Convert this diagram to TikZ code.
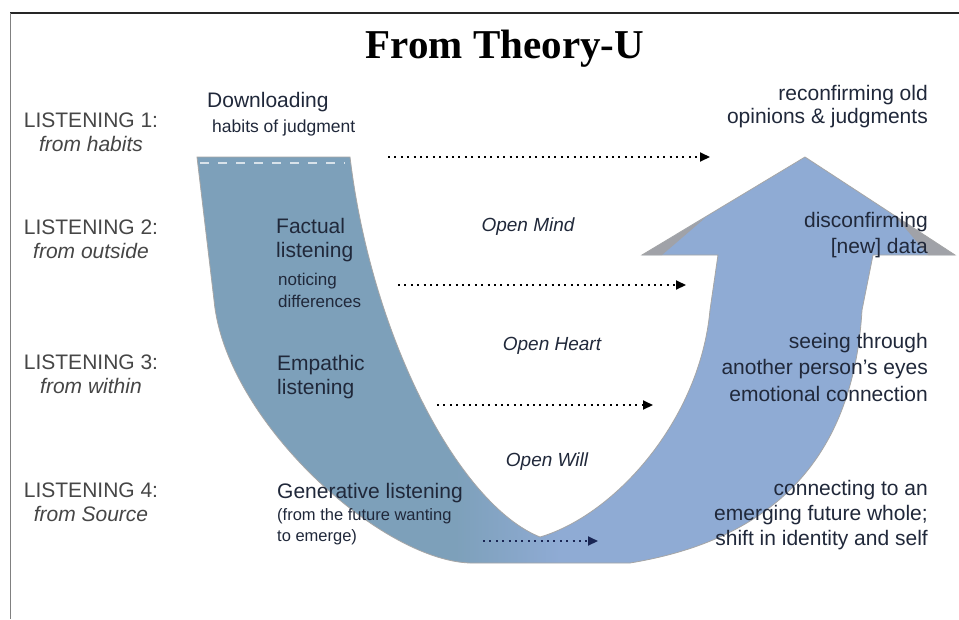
\documentclass[tikz,border=0pt]{standalone}
\usepackage{fontspec}
\setmainfont{Liberation Sans}
\newfontfamily\titlefont{Liberation Serif}
\usepackage{tikz}
\usetikzlibrary{arrows.meta}

\definecolor{uleft}{RGB}{125,160,186}
\definecolor{uright}{RGB}{143,171,212}
\definecolor{wing}{RGB}{160,162,168}
\definecolor{lgray}{RGB}{70,70,70}
\definecolor{dtext}{RGB}{32,40,58}
\definecolor{navy}{RGB}{26,38,84}

\tikzset{
  listen/.style={anchor=north, inner sep=0pt, align=center, text=lgray, font=\fontsize{21}{24}\selectfont},
  uname/.style={anchor=north west, inner sep=0pt, align=left, text=dtext, font=\fontsize{21}{24}\selectfont},
  unote/.style={anchor=north west, inner sep=0pt, align=left, text=dtext, font=\fontsize{17}{22}\selectfont},
  openlbl/.style={anchor=north, inner sep=0pt, text=dtext, font=\fontsize{19}{22}\selectfont\itshape},
  result/.style={anchor=north east, inner sep=0pt, align=right, text=dtext, font=\fontsize{21}{26}\selectfont},
  flow/.style={line width=2pt, dash pattern=on 2pt off 4.4pt, -{Triangle[length=10pt,width=9pt]}},
}

\def\ushape{(197,157) -- (350,157) .. controls (372,340) and (460,505) .. (540,537)
  .. controls (615,515) and (700,420) .. (710,310) -- (718,255) -- (642,255)
  -- (805,157) -- (955,255) -- (873,255) -- (862,310)
  .. controls (855,430) and (800,535) .. (630,563) -- (470,563)
  .. controls (380,560) and (225,420) .. (214,300) -- cycle}

\begin{document}
\begin{tikzpicture}[x=1pt, y=-1pt]
\useasboundingbox[fill=white] (0,0) rectangle (959,619);
% frame
\draw[black!85, line width=1.6pt] (10,13) -- (959,13);
\draw[gray, line width=1pt] (10,13) -- (10,619);

% the U
\begin{scope}
\clip \ushape;
\fill[uleft] (190,150) rectangle (455,570);
\shade[left color=uleft, right color=uright] (455,150) rectangle (560,570);
\fill[uright] (560,150) rectangle (960,570);
\fill[wing] (705,218) -- (642,255) -- (662,255) -- cycle;
\fill[wing] (895,216) -- (955,255) -- (928,255) -- cycle;
\end{scope}
\draw[gray!70, line width=.8pt] \ushape;
\draw[white, opacity=.7, line width=1.5pt, dash pattern=on 9pt off 9pt] (200,163) -- (345,163);

\node[anchor=north, inner sep=0pt, font=\titlefont\fontsize{41}{48}\selectfont\bfseries] (title) at (505,30) {From Theory-U};

% levels
\node[listen] (l1) at (91,113) {LISTENING 1:\\\textit{from habits}};
\node[listen] (l2) at (91,220) {LISTENING 2:\\\textit{from outside}};
\node[listen] (l3) at (91,355) {LISTENING 3:\\\textit{from within}};
\node[listen] (l4) at (91,483) {LISTENING 4:\\\textit{from Source}};

% inside the U
\node[uname] (dl) at (207,92) {Downloading};
\node[unote, font=\fontsize{17.5}{22}\selectfont] (hj) at (212,120) {habits of judgment};
\node[uname] (fl) at (276,218) {Factual\\listening};
\node[unote] (nd) at (278,273) {noticing\\differences};
\node[uname] (el) at (277,355) {Empathic\\listening};
\node[uname] (gl) at (277,483) {Generative listening};
\node[unote, font=\fontsize{16.5}{21}\selectfont] (gf) at (277,508) {(from the future wanting\\to emerge)};

\node[openlbl] (om) at (528,218) {Open Mind};
\node[openlbl] (oh) at (552,337) {Open Heart};
\node[openlbl] (ow) at (547,453) {Open Will};

% results
\node[result, font=\fontsize{21}{23.5}\selectfont] (r1) at (928,85) {reconfirming old\\opinions \& judgments};
\node[result] (r2) at (928,212) {disconfirming\\{[new]} data};
\node[result, font=\fontsize{21}{26.5}\selectfont] (r3) at (928,333) {seeing through\\another person's eyes\\emotional connection};
\node[result, font=\fontsize{21}{25}\selectfont] (r4) at (928,480) {connecting to an\\emerging future whole;\\shift in identity and self};

% dotted arrows
\coordinate (a1) at (388,157); \coordinate (b1) at (710,157);
\coordinate (a2) at (398,285); \coordinate (b2) at (686,285);
\coordinate (a3) at (437,405); \coordinate (b3) at (653,405);
\coordinate (a4) at (483,541); \coordinate (b4) at (598,541);
\draw[flow] (a1) -- (b1);
\draw[flow] (a2) -- (b2);
\draw[flow] (a3) -- (b3);
\draw[flow, navy] (a4) -- (b4);
\end{tikzpicture}
\end{document}
